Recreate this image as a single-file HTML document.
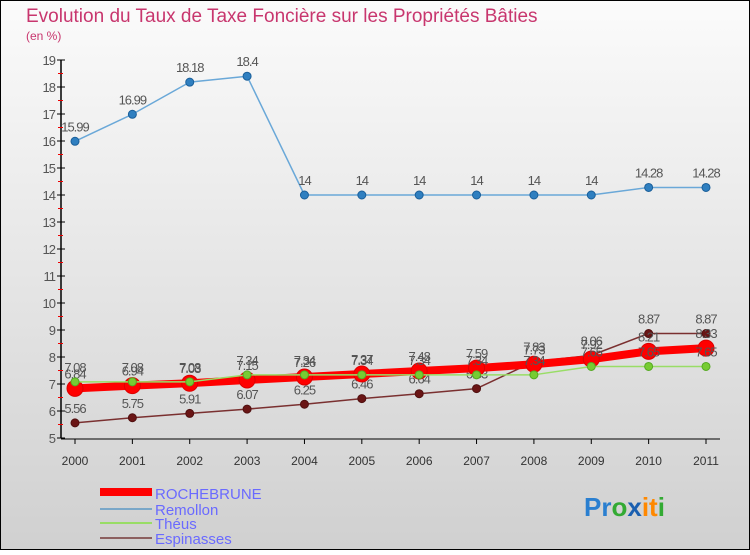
<!DOCTYPE html>
<html><head><meta charset="utf-8"><style>
body{margin:0;width:750px;height:550px;overflow:hidden;font-family:"Liberation Sans",sans-serif}
svg text{font-family:"Liberation Sans",sans-serif}
</style></head><body>
<svg id="c" width="750" height="550" xmlns="http://www.w3.org/2000/svg">
<defs><linearGradient id="bg" x1="0" y1="0" x2="0" y2="1"><stop offset="0" stop-color="#fbfbfb"/><stop offset="1" stop-color="#d0d0d0"/></linearGradient></defs>
<rect x="0" y="0" width="750" height="550" fill="url(#bg)" stroke="#000" stroke-width="2"/>
<text x="26" y="22" font-size="19" fill="#c8366e">Evolution du Taux de Taxe Foncière sur les Propriétés Bâties</text>
<text x="26" y="40" font-size="12" fill="#c8366e">(en %)</text>
<g id="axes"></g><g id="series"></g>
<g>
<rect x="100" y="488" width="52" height="8" fill="#f00"/>
<text x="155" y="499" font-size="15" fill="#6a6aff">ROCHEBRUNE</text>
<line x1="100" y1="509" x2="152" y2="509" stroke="#7aa7c8" stroke-width="2"/>
<text x="155" y="515" font-size="15" fill="#6a6aff">Remollon</text>
<line x1="100" y1="523" x2="152" y2="523" stroke="#99dd66" stroke-width="2"/>
<text x="155" y="529" font-size="15" fill="#6a6aff">Théus</text>
<line x1="100" y1="538" x2="152" y2="538" stroke="#8c6060" stroke-width="2"/>
<text x="155" y="544" font-size="15" fill="#6a6aff">Espinasses</text>
</g>
<text x="584" y="516" font-size="26" font-weight="bold"><tspan fill="#2a7fd0">Pr</tspan><tspan fill="#33aa33">o</tspan><tspan fill="#1a5fb0">x</tspan><tspan fill="#ff8800">it</tspan><tspan fill="#33aa33">i</tspan></text>
</svg>
<script>
const years=["2000","2001","2002","2003","2004","2005","2006","2007","2008","2009","2010","2011"];
const yTicks=[5,6,7,8,9,10,11,12,13,14,15,16,17,18,19];
const rochebrune=[6.84,6.94,7.03,7.15,7.26,7.37,7.48,7.59,7.73,7.92,8.21,8.33];
const remollon=[15.99,16.99,18.18,18.4,14,14,14,14,14,14,14.28,14.28];
const theus=[7.08,7.08,7.08,7.34,7.34,7.34,7.34,7.34,7.34,7.65,7.65,7.65];
const espinasses=[5.56,5.75,5.91,6.07,6.25,6.46,6.64,6.83,7.83,8.06,8.87,8.87];
const NS="http://www.w3.org/2000/svg";
const xs=i=>75+i*(706-75)/(years.length-1);
const ys=v=>438-(v-5)*27;
function mk(p,t,a){const e=document.createElementNS(NS,t);for(const k in a)e.setAttribute(k,a[k]);p.appendChild(e);return e;}
const ax=document.getElementById('axes');
const yl=mk(ax,'line',{x1:61,y1:ys(19),x2:61,y2:ys(5),stroke:'#000','stroke-width':1.5});


const xl=mk(ax,'line',{x1:61,y1:ys(5)+1,x2:720,y2:ys(5)+1,stroke:'#000','stroke-width':1});


yTicks.forEach(v=>{
  mk(ax,'line',{x1:57,y1:ys(v),x2:65,y2:ys(v),stroke:'#000'});
  if(v<19)mk(ax,'line',{x1:58,y1:ys(v+0.5),x2:63,y2:ys(v+0.5),stroke:'#e00'});
  const t=mk(ax,'text',{x:55,y:ys(v)+5,'text-anchor':'end','font-size':13,fill:'#555','letter-spacing':'-1'});
  t.textContent=v;
  
  
});
years.forEach((y,i)=>{
  mk(ax,'line',{x1:xs(i),y1:ys(5)+1,x2:xs(i),y2:ys(5)+6,stroke:'#000'});
  const t=mk(ax,'text',{x:xs(i),y:465,'text-anchor':'middle','font-size':12,fill:'#333'});
  t.textContent=y;
  
  
});
const sg=document.getElementById('series');
function series(name,vals,color,w,r,pc,ps){
  const g=mk(sg,'g',{});
  
  
  const pl=mk(g,'polyline',{points:vals.map((v,i)=>xs(i)+','+ys(v)).join(' '),fill:'none',stroke:color,'stroke-width':w,'stroke-linejoin':'round'});
  
  
  vals.forEach((v,i)=>{
    const c=mk(g,'circle',{cx:xs(i),cy:ys(v),r:r,fill:pc,stroke:ps,'stroke-width':1});
    
    
    const t=mk(g,'text',{x:xs(i),y:ys(v)-10,'text-anchor':'middle','font-size':13,fill:'#555','letter-spacing':'-1'});
    t.textContent=v;
    
    
  });
}
series('remollon',remollon,'#6aa8d8',1.5,4,'#2f7fc0','#1a5f9a');
series('espinasses',espinasses,'#7a3030',1.5,4,'#6a1515','#501010');
series('rochebrune',rochebrune,'#f00',8,8,'#f00','#d00');
series('theus',theus,'#99dd66',1.5,4,'#77cc33','#55aa22');
</script>
</body></html>
